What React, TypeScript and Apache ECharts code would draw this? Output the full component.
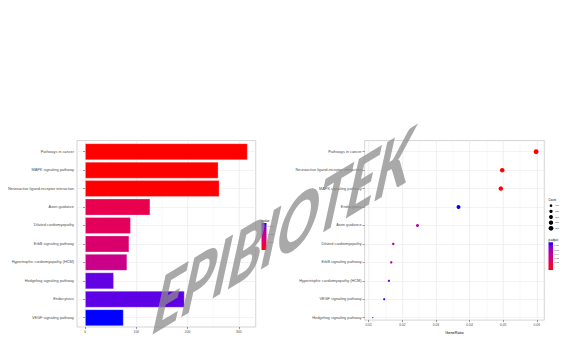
import React, { useEffect, useRef } from 'react';
import * as echarts from 'echarts';

// ---------- data ----------
const barTerms = [
  'Pathways in cancer',
  'MAPK signaling pathway',
  'Neuroactive ligand-receptor interaction',
  'Axon guidance',
  'Dilated cardiomyopathy',
  'ErbB signaling pathway',
  'Hypertrophic cardiomyopathy (HCM)',
  'Hedgehog signaling pathway',
  'Endocytosis',
  'VEGF signaling pathway',
];
const barCount = [317, 260, 262, 127, 89, 86, 82, 56, 194, 75];
const barPvalue = [0.00005, 0.0001, 0.00012, 0.0035, 0.0042, 0.0052, 0.0069, 0.0123, 0.0124, 0.0138];

const dotTerms = [
  'Pathways in cancer',
  'Neuroactive ligand-receptor interaction',
  'MAPK signaling pathway',
  'Endocytosis',
  'Axon guidance',
  'Dilated cardiomyopathy',
  'ErbB signaling pathway',
  'Hypertrophic cardiomyopathy (HCM)',
  'VEGF signaling pathway',
  'Hedgehog signaling pathway',
];
const dotRatio = [0.0598, 0.0497, 0.0493, 0.0367, 0.0245, 0.0173, 0.0167, 0.016, 0.0146, 0.0112];
const dotCount = [317, 262, 260, 194, 127, 89, 86, 82, 75, 56];
const dotPadj = [0.0002, 0.0005, 0.002, 0.0685, 0.041, 0.0425, 0.0466, 0.058, 0.0665, 0.065];

const barXTicks = [0, 100, 200, 300];
const dotXTicks = [0.01, 0.02, 0.03, 0.04, 0.05, 0.06];
const pvalueLegendTicks = [0.012, 0.008, 0.004];
const countLegendTicks = [100, 150, 200, 250, 300];
const padjLegendTicks = [0.06, 0.05, 0.04, 0.03, 0.02];

// red -> blue (Lab interpolation as in ggplot)
const gradientColors = ['#FF0000', '#F40031', '#E8004F', '#DA006C', '#CA0089', '#B500A5', '#9A00C3', '#7300E0', '#0000FF'];

const FONT = '"Liberation Sans", Arial, Helvetica, sans-serif';
const MARK_FONT = 'Lato, "DejaVu Sans", "Liberation Sans", sans-serif';

function expand(lo: number, hi: number): [number, number] {
  const d = hi - lo;
  return [lo - 0.05 * d, hi + 0.05 * d];
}

function svd2(a: number, b: number, c: number, d: number) {
  // M = [[a, b], [c, d]] = R(phi) diag(sx, sy) R(theta)
  const E = (a + d) / 2, F = (a - d) / 2, G = (c + b) / 2, H = (c - b) / 2;
  const Q = Math.hypot(E, H), R = Math.hypot(F, G);
  const a1 = Math.atan2(G, F), a2 = Math.atan2(H, E);
  return { sx: Q + R, sy: Q - R, theta: (a2 - a1) / 2, phi: (a2 + a1) / 2 };
}

export default function App() {
  const ref = useRef<HTMLDivElement>(null);

  useEffect(() => {
    document.body.style.margin = '0';
    if (!ref.current) return;
    const chart = echarts.init(ref.current, null, { renderer: 'svg' });

    const bx = expand(0, Math.max(...barCount));
    const dx = expand(Math.min(...dotRatio), Math.max(...dotRatio));
    const cMin = Math.min(...dotCount), cMax = Math.max(...dotCount);
    const sizeOf = (c: number) => 1.1 + 3.8 * Math.sqrt(Math.max(0, (c - cMin) / (cMax - cMin)));
    const pMin = Math.min(...barPvalue), pMax = Math.max(...barPvalue);
    const qMin = Math.min(...dotPadj), qMax = Math.max(...dotPadj);

    const Lp = { left: 77, right: 255.7 };
    const Rp = { left: 364.6, right: 544.3 };
    const top = 140.6, bottom = 327, rowTop = 151.7, rowBottom = 317.7;

    const gridLine = { color: '#EBEBEB', width: 0.6 };
    const minorLine = { color: '#F1F1F1', width: 0.35 };
    const tick = { show: true, length: 2, lineStyle: { color: '#333', width: 0.5 } };

    // legends
    const legendText = (text: string, x: number, y: number, size: number, va = 'middle', color = '#333') => ({
      type: 'text', z: 10, silent: true,
      style: { text, x, y, fontSize: size, fontFamily: FONT, fill: color, textFill: color, align: 'left', textAlign: 'left', verticalAlign: va, textVerticalAlign: va },
    });
    const vGrad = () => ({
      type: 'linear', x: 0, y: 0, x2: 0, y2: 1,
      colorStops: gradientColors.slice().reverse().map((c, i) => ({ offset: i / (gradientColors.length - 1), color: c })),
    });

    const pvBar = { x: 261.5, y: 223, w: 5, h: 27 };
    const qBar = { x: 548.5, y: 242.3, w: 4.5, h: 27.7 };
    const graphics: any[] = [];
    graphics.push(legendText('pvalue', 261, 221.8, 2.8, 'bottom', '#000'));
    graphics.push({ type: 'rect', z: 10, silent: true, shape: { x: pvBar.x, y: pvBar.y, width: pvBar.w, height: pvBar.h }, style: { fill: vGrad() } });
    pvalueLegendTicks.forEach((v) => {
      const y = pvBar.y + ((pMax - v) / (pMax - pMin)) * pvBar.h;
      graphics.push(legendText(v.toFixed(3), pvBar.x + pvBar.w + 1.3, y, 2.3));
    });

    graphics.push(legendText('Count', 548.5, 200.8, 2.8, 'bottom', '#000'));
    countLegendTicks.forEach((v, i) => {
      const y = 205.7 + i * 5.65;
      graphics.push({ type: 'circle', z: 10, silent: true, shape: { cx: 551, cy: y, r: sizeOf(v) / 2 }, style: { fill: '#000' } });
      graphics.push(legendText(String(v), 555.3, y, 2.3));
    });

    graphics.push(legendText('p.adjust', 548.5, 241.2, 2.8, 'bottom', '#000'));
    graphics.push({ type: 'rect', z: 10, silent: true, shape: { x: qBar.x, y: qBar.y, width: qBar.w, height: qBar.h }, style: { fill: vGrad() } });
    padjLegendTicks.forEach((v) => {
      const y = qBar.y + ((qMax - v) / (qMax - qMin)) * qBar.h;
      graphics.push(legendText(v.toFixed(2), qBar.x + qBar.w + 1.3, y, 2.3));
    });

    // watermark: skewed heavy text built from rotate-scale-rotate
    const s = svd2(1, -0.36, -0.6, 1.64);
    graphics.push({
      type: 'group', x: 284, y: 228, rotation: -s.phi, scaleX: s.sx, scaleY: s.sy, z: 100,
      children: [
        {
          type: 'group', rotation: -s.theta, z: 100,
          children: [
            {
              type: 'text', z: 100, silent: true,
              style: {
                text: 'EPIBIOTEK', x: 0, y: 0, fontSize: 50, fontWeight: 900, fontFamily: MARK_FONT,
                fill: 'rgba(140,140,140,0.75)', textFill: 'rgba(140,140,140,0.75)',
                align: 'center', textAlign: 'center', verticalAlign: 'middle', textVerticalAlign: 'middle',
              },
            },
          ],
        },
      ],
    });

    const option: any = {
      animation: false,
      backgroundColor: '#fff',
      textStyle: { fontFamily: FONT },
      grid: [
        { left: Lp.left, top, width: Lp.right - Lp.left, height: bottom - top, show: true, borderColor: '#C8C8C8', borderWidth: 0.8, backgroundColor: '#fff' },
        { left: Lp.left, top: rowTop, width: Lp.right - Lp.left, height: rowBottom - rowTop },
        { left: Rp.left, top, width: Rp.right - Rp.left, height: bottom - top, show: true, borderColor: '#C8C8C8', borderWidth: 0.8, backgroundColor: '#fff' },
        { left: Rp.left, top: rowTop, width: Rp.right - Rp.left, height: rowBottom - rowTop },
      ],
      xAxis: [
        {
          gridIndex: 0, type: 'value', min: bx[0], max: bx[1], splitNumber: 3,
          axisLine: { show: false },
          axisTick: { ...tick, customValues: barXTicks },
          axisLabel: { customValues: barXTicks, fontSize: 3.3, color: '#4D4D4D', margin: 3, formatter: (v: number) => String(Math.round(v)) },
          splitLine: { show: true, lineStyle: gridLine },
        },
        {
          gridIndex: 0, type: 'value', min: bx[0], max: bx[1], splitNumber: 7,
          axisLine: { show: false }, axisTick: { show: false }, axisLabel: { show: false },
          splitLine: { show: true, lineStyle: minorLine },
        },
        {
          gridIndex: 2, type: 'value', min: dx[0], max: dx[1], splitNumber: 5,
          axisLine: { show: false },
          axisTick: { ...tick, customValues: dotXTicks },
          axisLabel: { customValues: dotXTicks, fontSize: 3.3, color: '#4D4D4D', margin: 3, formatter: (v: number) => v.toFixed(2) },
          splitLine: { show: true, lineStyle: gridLine },
          name: 'GeneRatio', nameLocation: 'middle', nameGap: 6.5,
          nameTextStyle: { fontSize: 3.8, color: '#000', fontFamily: FONT },
        },
        {
          gridIndex: 2, type: 'value', min: dx[0], max: dx[1], splitNumber: 10,
          axisLine: { show: false }, axisTick: { show: false }, axisLabel: { show: false },
          splitLine: { show: true, lineStyle: minorLine },
        },
        { gridIndex: 1, type: 'value', min: bx[0], max: bx[1], show: false },
        { gridIndex: 3, type: 'value', min: dx[0], max: dx[1], show: false },
      ],
      yAxis: [
        { gridIndex: 0, type: 'value', show: false },
        {
          gridIndex: 1, type: 'category', data: barTerms, inverse: true, boundaryGap: false,
          axisLine: { show: false }, axisTick: tick,
          axisLabel: { fontSize: 3.85, color: '#4D4D4D', margin: 3 },
          splitLine: { show: true, lineStyle: gridLine },
        },
        { gridIndex: 2, type: 'value', show: false },
        {
          gridIndex: 3, type: 'category', data: dotTerms, inverse: true, boundaryGap: false,
          axisLine: { show: false }, axisTick: tick,
          axisLabel: { fontSize: 3.85, color: '#4D4D4D', margin: 3 },
          splitLine: { show: true, lineStyle: gridLine },
        },
      ],
      visualMap: [
        { type: 'continuous', show: false, seriesIndex: 0, dimension: 2, min: pMin, max: pMax, inRange: { color: gradientColors } },
        { type: 'continuous', show: false, seriesIndex: 1, dimension: 3, min: qMin, max: qMax, inRange: { color: gradientColors } },
      ],
      series: [
        {
          type: 'bar', xAxisIndex: 4, yAxisIndex: 1, barWidth: 16.6, clip: false,
          encode: { x: 0, y: 1 },
          data: barTerms.map((t, i) => [barCount[i], t, barPvalue[i]]),
          itemStyle: { borderColor: 'rgba(255,255,255,0.45)', borderWidth: 0.6 },
        },
        {
          type: 'scatter', xAxisIndex: 5, yAxisIndex: 3, clip: false,
          encode: { x: 0, y: 1 },
          data: dotTerms.map((t, i) => [dotRatio[i], t, dotCount[i], dotPadj[i]]),
          symbolSize: (val: any) => sizeOf(val[2]),
          itemStyle: { opacity: 1 },
        },
      ],
      graphic: { elements: graphics },
    };

    chart.setOption(option);
    return () => chart.dispose();
  }, []);

  return <div ref={ref} style={{ width: 566, height: 340 }} />;
}
